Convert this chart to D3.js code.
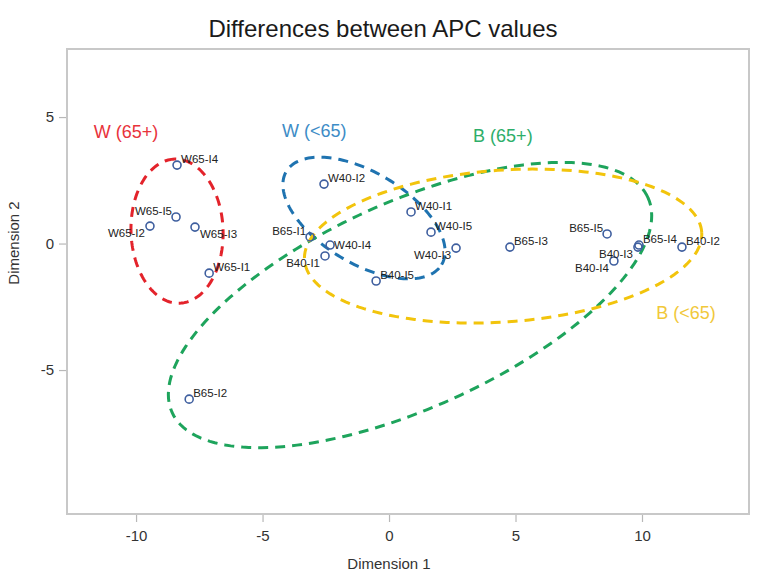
<!DOCTYPE html>
<html>
<head>
<meta charset="utf-8">
<script src="https://cdn.jsdelivr.net/npm/d3@7"></script>
<style>
  html, body { margin: 0; padding: 0; background: #fff; }
  svg { display: block; font-family: "Liberation Sans", Arial, sans-serif; }
</style>
</head>
<body>
<div id="chart"></div>
<script>
// ---- data ----
const pointNames = ["W65-I4","W65-I5","W65-I2","W65-I3","W65-I1",
  "W40-I2","B65-I1","W40-I4","B40-I1","B40-I5","W40-I1","W40-I5","W40-I3",
  "B65-I3","B65-I5","B40-I3","B65-I4","B40-I4","B40-I2","B65-I2"];
const dim1 = [-8.38,-8.42,-9.45,-7.67,-7.11,
  -2.57,-3.12,-2.33,-2.53,-0.51,0.87,1.66,2.65,
  4.78,8.62,9.84,9.88,8.89,11.58,-7.90];
const dim2 = [3.10,1.05,0.69,0.65,-1.17,
  2.35,0.26,-0.06,-0.49,-1.48,1.25,0.45,-0.18,
  -0.14,0.38,-0.14,-0.06,-0.69,-0.14,-6.15];
// label side relative to the point (ru = right/up, lu = left/up, ld = left/down, rd = right/down, r = right)
const labelSide = ["ru","lu","ld","rd","ru",
  "ru","lu","r","ld","ru","ru","ru","ld",
  "ru","lu","ld","ru","ld","ru","ru"];

const groupNames = ["W (65+)","W (<65)","B (65+)","B (<65)"];
const groupColors = ["#e3232b","#1f73b0","#1ea45c","#f2c40c"];
const groupTextColors = ["#e8333b","#3d8cc6","#2eae69","#f1c83a"];
// ellipse centre, semi-axes and rotation (degrees) in data units
const ellCx = [-8.38,-0.99,0.83,4.51];
const ellCy = [0.49,1.01,-2.43,-0.10];
const ellA  = [2.85,3.58,10.32,7.87];
const ellB  = [1.82,1.80,4.07,3.00];
const ellAngle = [92,-31,24.3,4];
// group label anchor positions (data units)
const groupLabelX = [-10.4,-2.96,4.5,11.74];
const groupLabelY = [4.43,4.45,4.25,-2.75];

const xTicks = [-10,-5,0,5,10];
const yTicks = [-5,0,5];

// ---- layout ----
const W = 764, H = 585;
const box = {l: 67, r: 749, t: 49, b: 514};
const svg = d3.select("#chart").append("svg").attr("width", W).attr("height", H);

const x = d3.scaleLinear().domain([-12.73, 14.23]).range([box.l, box.r]);
const y = d3.scaleLinear().domain([-10.69, 7.69]).range([box.b, box.t]);

// title
svg.append("text").attr("x", 383).attr("y", 37).attr("text-anchor","middle")
  .attr("font-size", 24).attr("fill","#1a1a1a").text("Differences between APC values");

// box
svg.append("rect").attr("x", box.l).attr("y", box.t)
  .attr("width", box.r - box.l).attr("height", box.b - box.t)
  .attr("fill","none").attr("stroke","#c8c8c8").attr("stroke-width",2);

// axes
const fmt = d => String(d);
const xa = svg.append("g").attr("transform", `translate(0,${box.b+1})`)
  .call(d3.axisBottom(x).tickValues(xTicks).tickSize(7).tickPadding(8).tickFormat(fmt));
const ya = svg.append("g").attr("transform", `translate(${box.l-1},0)`)
  .call(d3.axisLeft(y).tickValues(yTicks).tickSize(7).tickPadding(5).tickFormat(fmt));
[xa, ya].forEach(g => {
  g.select(".domain").remove();
  g.selectAll(".tick line").attr("stroke","#b8b8b8").attr("stroke-width",1.2);
  g.selectAll(".tick text").attr("font-size",15).attr("fill","#333")
    .attr("font-family","'Liberation Sans', Arial, sans-serif");
});

svg.append("text").attr("x", 389).attr("y", 569).attr("text-anchor","middle")
  .attr("font-size", 15).attr("fill","#333").text("Dimension 1");
svg.append("text").attr("transform","translate(19,243) rotate(-90)").attr("text-anchor","middle")
  .attr("font-size", 15).attr("fill","#333").text("Dimension 2");

// ellipses
const tSteps = d3.range(0, 361, 2);
const line = d3.line().x(d => x(d[0])).y(d => y(d[1]));
groupNames.forEach((g, i) => {
  const th = ellAngle[i] * Math.PI / 180;
  const pts = tSteps.map(t => {
    const r = t * Math.PI / 180;
    const u = ellA[i] * Math.cos(r), v = ellB[i] * Math.sin(r);
    return [ellCx[i] + u * Math.cos(th) - v * Math.sin(th),
            ellCy[i] + u * Math.sin(th) + v * Math.cos(th)];
  });
  svg.append("path").attr("d", line(pts)).attr("fill","none")
    .attr("stroke", groupColors[i]).attr("stroke-width", 3)
    .attr("stroke-dasharray","10,7");
  svg.append("text").attr("x", x(groupLabelX[i])).attr("y", y(groupLabelY[i]))
    .attr("dy","0.35em").attr("text-anchor","middle").attr("font-size",18)
    .attr("fill", groupTextColors[i]).text(g);
});

// points
const pts = pointNames.map((n, i) => ({name: n, d1: dim1[i], d2: dim2[i], side: labelSide[i]}));
svg.selectAll("circle.pt").data(pts).enter().append("circle").attr("class","pt")
  .attr("cx", d => x(d.d1)).attr("cy", d => y(d.d2)).attr("r", 4)
  .attr("fill","none").attr("stroke","#3f5f9f").attr("stroke-width",1.6);

const off = {ru:[4,-6,"start"], lu:[-4,-6,"end"], ld:[-5,7,"end"], rd:[5,7,"start"], r:[4,0,"start"]};
svg.selectAll("text.lbl").data(pts).enter().append("text").attr("class","lbl")
  .attr("x", d => x(d.d1) + off[d.side][0])
  .attr("y", d => y(d.d2) + off[d.side][1])
  .attr("dy","0.35em").attr("text-anchor", d => off[d.side][2])
  .attr("font-size", 11.5).attr("fill","#222").text(d => d.name);
</script>
</body>
</html>
